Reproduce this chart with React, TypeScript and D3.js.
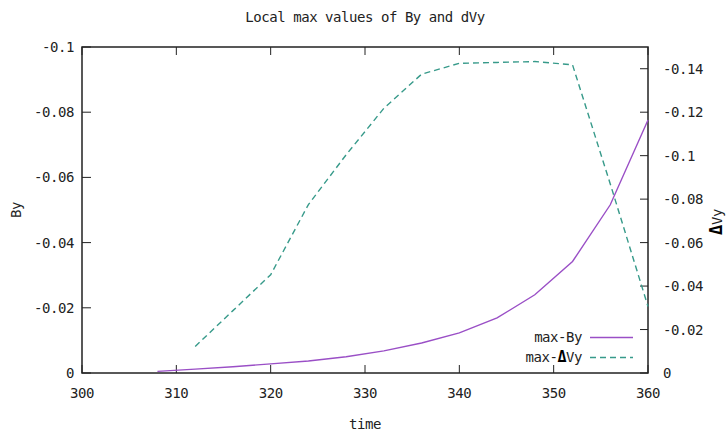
import React from "react";
import * as d3 from "d3";

const byTime = [308, 312, 316, 320, 324, 328, 332, 336, 340, 344, 348, 352, 356, 360];
const byValues = [-0.0005, -0.0012, -0.0019, -0.0028, -0.0037, -0.005, -0.0068, -0.0092, -0.0123, -0.0169, -0.024, -0.0342, -0.0516, -0.0776];
const dvyTime = [312, 316, 320, 324, 328, 332, 336, 340, 344, 348, 352, 356, 360];
const dvyValues = [-0.0122, -0.0287, -0.0452, -0.0775, -0.1004, -0.1218, -0.1375, -0.1425, -0.1429, -0.1433, -0.1418, -0.087, -0.0306];
const xTicks = [300, 310, 320, 330, 340, 350, 360];
const yTicks = [0, -0.02, -0.04, -0.06, -0.08, -0.1];
const y2Ticks = [0, -0.02, -0.04, -0.06, -0.08, -0.1, -0.12, -0.14];

const W = 726, H = 431;
const L = 82, R = 648, T = 47, B = 373;
const FONT = "'DejaVu Sans Mono', monospace";
const FS = 14;
const LS = -0.45;
const AX = "#222";
const PURPLE = "#9a4fc6";
const GREEN = "#379a8a";

const fmt = (v: number) => String(+v.toFixed(2));

export default function App() {
  const x = d3.scaleLinear().domain([300, 360]).range([L, R]);
  const y = d3.scaleLinear().domain([0, -0.1]).range([B, T]);
  const y2 = d3.scaleLinear().domain([0, -0.15]).range([B, T]);

  const byLine = d3.line<number>().x((_, i) => x(byTime[i])).y((d) => y(d))(byValues) || "";
  const dvyLine = d3.line<number>().x((_, i) => x(dvyTime[i])).y((d) => y2(d))(dvyValues) || "";

  return (
    <svg width={W} height={H} style={{ position: "absolute", left: 0, top: 0, background: "#fff" }} fontFamily={FONT} fontSize={FS} letterSpacing={LS}>
      <rect width={W} height={H} fill="#fff" />
      <text x={365} y={22} textAnchor="middle" fill={AX}>Local max values of By and dVy</text>

      {/* x ticks */}
      {xTicks.map((t) => (
        <g key={"x" + t}>
          <line x1={x(t)} x2={x(t)} y1={B} y2={B - 8} stroke={AX} strokeWidth={1} />
          <line x1={x(t)} x2={x(t)} y1={T} y2={T + 8} stroke={AX} strokeWidth={1} />
          <text x={x(t)} y={398} textAnchor="middle" fill={AX}>{t}</text>
        </g>
      ))}
      {/* left ticks */}
      {yTicks.map((t) => (
        <g key={"y" + t}>
          <line x1={L} x2={L + 9} y1={y(t)} y2={y(t)} stroke={AX} strokeWidth={1} />
          <text x={74} y={y(t) + 5} textAnchor="end" fill={AX}>{fmt(t)}</text>
        </g>
      ))}
      {/* right ticks */}
      {y2Ticks.map((t) => (
        <g key={"y2" + t}>
          <line x1={R} x2={R - 8} y1={y2(t)} y2={y2(t)} stroke={AX} strokeWidth={1} />
          <text x={663} y={y2(t) + 5} textAnchor="start" fill={AX}>{fmt(t)}</text>
        </g>
      ))}

      <rect x={L} y={T} width={R - L} height={B - T} fill="none" stroke={AX} strokeWidth={1.5} />

      <path d={dvyLine} fill="none" stroke={GREEN} strokeWidth={1.4} strokeDasharray="6,4" />
      <path d={byLine} fill="none" stroke={PURPLE} strokeWidth={1.4} />

      {/* legend */}
      <text x={582} y={342} textAnchor="end" fill={AX}>max-By</text>
      <line x1={590} x2={633} y1={337.5} y2={337.5} stroke={PURPLE} strokeWidth={1.4} />
      <text x={582} y={362} textAnchor="end" fill={AX}>
        max-<tspan fontWeight="bold" fill="#000" fontSize={15}>Δ</tspan>Vy
      </text>
      <line x1={590} x2={633} y1={357.5} y2={357.5} stroke={GREEN} strokeWidth={1.4} strokeDasharray="6,4" />

      {/* axis labels */}
      <text x={365} y={429} textAnchor="middle" fill={AX}>time</text>
      <text transform="translate(21,210) rotate(-90)" textAnchor="middle" fill={AX}>By</text>
      <text transform="translate(722,222) rotate(-90)" textAnchor="middle" fill={AX}>
        <tspan fontWeight="bold" fill="#000" fontSize={17}>Δ</tspan>Vy
      </text>
    </svg>
  );
}
